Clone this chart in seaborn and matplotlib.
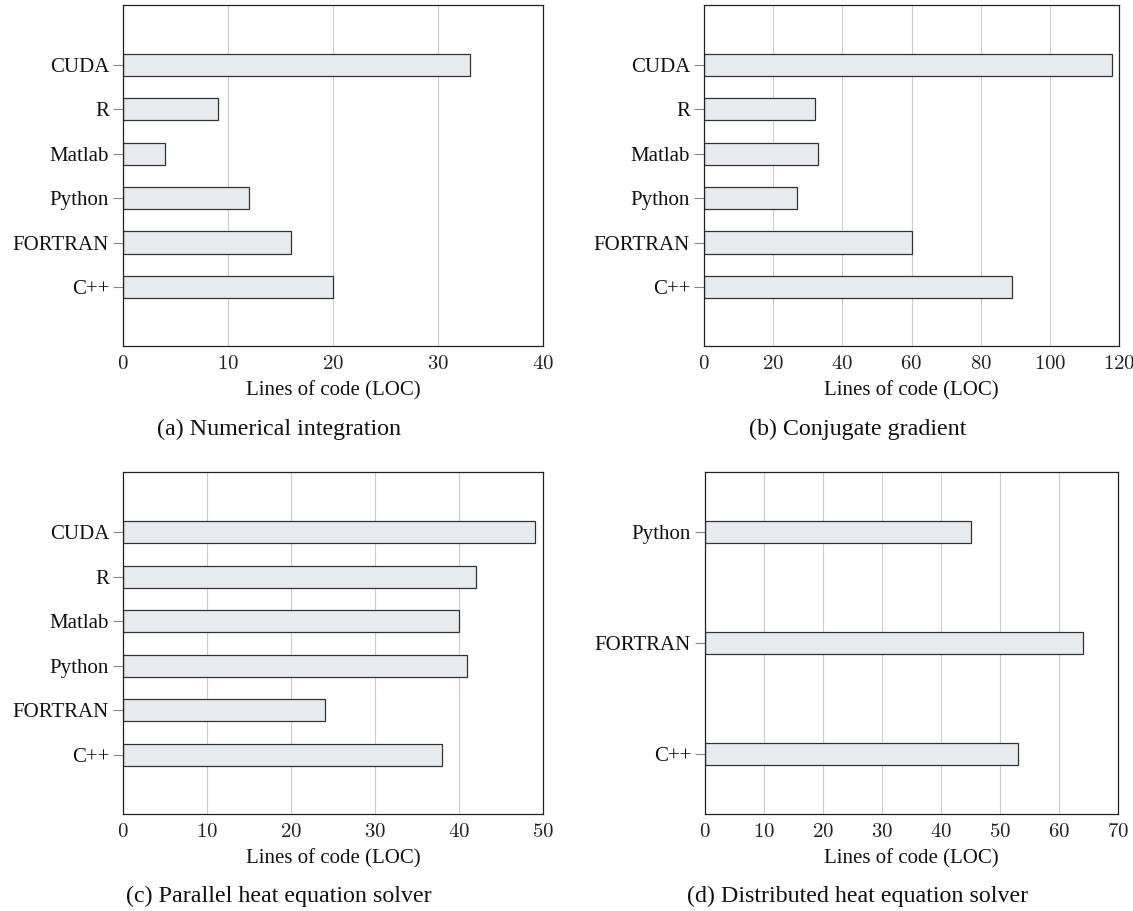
import matplotlib
matplotlib.use("Agg")
import matplotlib.pyplot as plt
import matplotlib.ticker as mticker
import seaborn as sns
import pandas as pd

sns.set_theme(style="white")
plt.rcParams['font.family'] = ['Liberation Serif', 'DejaVu Serif']
plt.rcParams['mathtext.fontset'] = 'cm'

langs6 = ["CUDA", "R", "Matlab", "Python", "FORTRAN", "C++"]
loc_a = [33, 9, 4, 12, 16, 20]
loc_b = [118, 32, 33, 27, 60, 89]
loc_c = [49, 42, 40, 41, 24, 38]
langs3 = ["Python", "FORTRAN", "C++"]
loc_d = [45, 64, 53]

captions = ["(a) Numerical integration", "(b) Conjugate gradient",
            "(c) Parallel heat equation solver", "(d) Distributed heat equation solver"]
xmax = [40, 120, 50, 70]
xstep = [10, 20, 10, 10]

W, H = 1133, 911
fig = plt.figure(figsize=(W / 100, H / 100), dpi=100)

boxes = [(123, 5, 543, 346), (704, 5, 1119, 346), (123, 472, 543, 814), (705, 472, 1118, 814)]
cap_pos = [(279, 429), (858, 429), (279, 896), (858, 896)]
datasets = [(langs6, loc_a), (langs6, loc_b), (langs6, loc_c), (langs3, loc_d)]

for i, ((x0, y0, x1, y1), (cats, vals)) in enumerate(zip(boxes, datasets)):
    ax = fig.add_axes([x0 / W, 1 - y1 / H, (x1 - x0) / W, (y1 - y0) / H])
    df = pd.DataFrame({"lang": cats, "loc": vals})
    n = len(cats)
    if n == 6:
        width = 0.5
        pad_top, pad_bot = 1.35, 1.33
    else:
        width = 0.19
        pad_top, pad_bot = 0.54, 0.54
    sns.barplot(data=df, y="lang", x="loc", order=cats, orient="h", ax=ax,
                color="#e8ebee", edgecolor="#333333", linewidth=0.9,
                width=width, saturation=1)
    ax.set_ylim(n - 1 + pad_bot, -pad_top)
    ax.set_xlim(0, xmax[i])
    ax.set_xticks(range(0, xmax[i] + 1, xstep[i]))
    ax.xaxis.set_major_formatter(mticker.FuncFormatter(lambda v, p: r"$%d$" % v))
    ax.grid(axis="x", color="#cccccc", linewidth=0.8)
    ax.set_axisbelow(True)
    for s in ax.spines.values():
        s.set_color("#222222")
        s.set_linewidth(0.9)
    ax.tick_params(axis="y", length=7, width=0.8, color="#888888", left=True, pad=3,
                   labelsize=15, labelcolor="#111111")
    ax.tick_params(axis="x", length=0, pad=6.5, labelsize=15, labelcolor="#222222")
    ax.set_ylabel("")
    ax.set_xlabel("Lines of code (LOC)", fontsize=15, labelpad=5, color="#111111")
    fig.text(cap_pos[i][0] / W, 1 - cap_pos[i][1] / H, captions[i], ha="center", va="center",
             fontsize=17.3, color="#111111")

fig.savefig("out.png", dpi=100)
